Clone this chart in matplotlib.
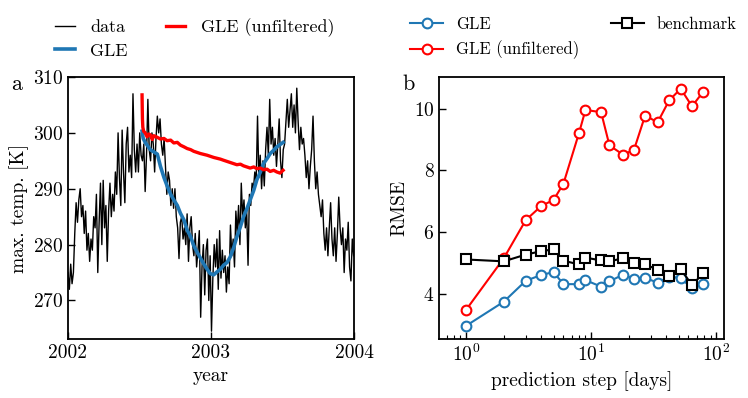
import numpy as np
import matplotlib
matplotlib.use('Agg')
import matplotlib.pyplot as plt

plt.rcParams['font.family'] = 'serif'
plt.rcParams['font.serif'] = ['cmr10']
plt.rcParams['mathtext.fontset'] = 'cm'
plt.rcParams['axes.formatter.use_mathtext'] = True
plt.rcParams['font.size'] = 14
plt.rcParams['axes.linewidth'] = 1.3

# --- panel a: daily max. temperature (~3.4 day steps)
temp_data = [
    275, 272, 276.5, 273, 275, 282, 287.5, 284, 288, 290, 285, 287, 282, 286,
    279, 282, 277, 281, 279, 285, 283, 289, 275, 284, 291, 280, 291.5, 283,
    287, 277, 286, 291, 285, 289, 286, 293,
    289, 300, 292, 287, 300.5, 293, 287.5, 298, 301, 293, 296, 292, 307, 297,
    293, 298, 293, 300, 296, 295, 298, 289.5, 296, 306, 297, 295, 300, 298,
    293, 299, 303, 300, 302.5, 298, 296, 299, 294, 289, 293, 291.5, 287, 290,
    286.5, 290, 285, 283, 277.5, 284, 285, 281, 283, 280, 285.5, 277, 283,
    285, 280, 278, 282, 276, 279, 282.5,
    267, 276, 280, 271, 279, 281, 270, 278, 264.5, 274, 280, 276, 281, 272,
    282.5, 274, 279, 275, 278, 271.5, 276, 273, 283.5, 278, 281, 276, 286,
    282, 287, 280, 291, 285, 288, 283, 286, 276.3, 289, 287, 291, 290, 293,
    291, 303, 292, 296, 290, 295, 290.5, 297, 301, 296, 306, 298, 301, 296,
    299, 294, 298, 302.5, 295, 292, 297, 298, 302, 306, 301, 304, 307, 301,
    305, 300, 308, 302, 297, 301, 298, 299, 296, 292, 295, 290, 294, 297,
    303, 295, 290, 293, 289, 287, 285, 288, 282, 279, 283, 278, 283, 287.5,
    281, 278, 283, 277, 282, 288.5, 283, 280, 283, 275, 281, 279, 284, 276,
    273.5, 281, 278,
]
day_data = np.linspace(0, 729, len(temp_data))

gle_day = [189, 192, 197, 202, 210, 219, 228, 236, 245, 253,
           262, 270, 279, 287, 296, 304, 313, 321, 329, 338,
           346, 355, 363, 372, 380, 389, 397, 406, 414, 423,
           431, 440, 448, 457, 465, 474, 482, 491, 499, 508,
           516, 525, 533, 541, 549]
gle_temp = [300.3, 299, 298.3, 297.8, 297, 296.6, 296.2, 294, 292, 290.5,
            289, 288, 287, 285.6, 284.4, 282.6, 281.4, 279.8, 278.7, 277.6,
            276.6, 275.6, 274.8, 274.6, 275.1, 275.6, 276.3, 276.8, 277.8, 279.5,
            281.4, 283.2, 285, 286.5, 288, 289.7, 291.6, 293, 294.5, 295.4,
            296.3, 296.9, 297.5, 297.9, 298.3]

unf_day = [189, 189.5, 190, 191, 193, 197, 202, 206, 211, 215,
           219, 228, 236, 245, 253, 262, 270, 279, 287, 296,
           304, 313, 321, 338, 355, 372, 389, 397, 414, 431,
           440, 448, 465, 474, 482, 491, 499, 508, 516, 525,
           533, 541, 549]
unf_temp = [306.8, 304.5, 302.5, 301, 300.3, 300, 299.3, 299.8, 299.6, 298.8,
            299.5, 299.2, 298.9, 299, 298.6, 298.7, 298.2, 298.3, 297.8, 297.5,
            297.2, 297.0, 296.7, 296.3, 296.0, 295.6, 295.3, 295.1, 294.7, 294.3,
            294.4, 294.1, 293.7, 293.9, 293.6, 293.7, 293.4, 293.5, 293.1, 293.3,
            293.0, 292.8, 293.3]

# --- panel b: RMSE vs prediction step
steps = [1, 2, 3, 4, 5, 6, 8, 9, 12, 14, 18, 22, 27, 34, 42, 52, 64, 79]
rmse_gle = [2.96, 3.74, 4.42, 4.61, 4.70, 4.31, 4.31, 4.44, 4.23, 4.40,
            4.62, 4.49, 4.51, 4.36, 4.55, 4.51, 4.18, 4.31]
rmse_unf = [3.48, 5.15, 6.39, 6.85, 7.04, 7.57, 9.22, 9.96, 9.89, 8.81,
            8.51, 8.67, 9.78, 9.56, 10.27, 10.65, 10.08, 10.56]
rmse_bench = [5.11, 5.05, 5.27, 5.38, 5.44, 5.07, 4.95, 5.17, 5.08, 5.05,
              5.15, 5.01, 4.95, 4.78, 4.56, 4.80, 4.28, 4.67]

blue = '#1f77b4'

fig = plt.figure(figsize=(7.48, 3.98), dpi=100)
ax1 = fig.add_axes([0.0909, 0.1482, 0.3824, 0.6583])
ax2 = fig.add_axes([0.5873, 0.1482, 0.3810, 0.6583])

t = lambda d: 2002 + np.asarray(d) / 365.0

ax1.plot(t(day_data), temp_data, color='k', lw=1.0, label='data')
ax1.plot(t(gle_day), gle_temp, color=blue, lw=2.6, label='GLE')
ax1.plot(t(unf_day), unf_temp, color='r', lw=2.4, label='GLE (unfiltered)')
ax1.set_xlim(2002, 2004)
ax1.set_ylim(263.1, 310)
ax1.set_xticks([2002, 2003, 2004], ['2002', '2003', '2004'])
ax1.set_yticks([270, 280, 290, 300, 310])
ax1.set_xlabel('year')
ax1.set_ylabel('max. temp. [K]', labelpad=3)
ax1.tick_params(direction='in', length=5, width=1)
ax1.legend(loc='upper left', bbox_to_anchor=(55/748, 1 - 18/398),
           bbox_transform=fig.transFigure, ncol=2, frameon=False,
           fontsize=13, borderpad=0, borderaxespad=0, handlelength=1.1,
           handletextpad=0.85, columnspacing=2.1, labelspacing=0.45)

mk = dict(mfc='white', ms=7, mew=1.5, lw=1.5)
ax2.plot(steps, rmse_gle, 'o-', color=blue, label='GLE', **mk)
ax2.plot(steps, rmse_unf, 'o-', color='r', label='GLE (unfiltered)', **mk)
ax2.plot(steps, rmse_bench, 's-', color='k', label='benchmark', **mk)
ax2.set_xscale('log')
ax2.set_xlim(0.61, 116)
ax2.set_ylim(2.53, 11.03)
ax2.set_yticks([4, 6, 8, 10])
ax2.set_xlabel('prediction step [days]')
ax2.set_ylabel('RMSE')
ax2.tick_params(which='major', direction='in', length=5, width=1)
ax2.tick_params(which='minor', direction='in', length=3, width=0.8)
ax2.legend(loc='upper left', bbox_to_anchor=(410/748, 1 - 17/398),
           bbox_transform=fig.transFigure, ncol=2, frameon=False,
           fontsize=12, borderpad=0, borderaxespad=0, handlelength=2.0,
           handletextpad=0.75, columnspacing=1.9, labelspacing=0.5)

fig.text(11/748, 1 - 90/398, 'a', va='baseline', fontsize=16)
fig.text(402/748, 1 - 90/398, 'b', va='baseline', fontsize=16)

fig.savefig('out.png', dpi=100)
